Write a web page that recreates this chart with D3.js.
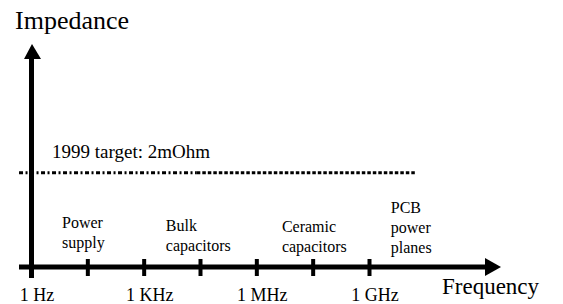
<!DOCTYPE html>
<html>
<head>
<meta charset="utf-8">
<script src="https://cdn.jsdelivr.net/npm/d3@7"></script>
</head>
<body style="margin:0">
<div id="wrapper"></div>
<script>
// frequency ticks (Hz) and their labels
const tickValues = [1, Math.pow(10, 1.5), 1e3, Math.pow(10, 4.5), 1e6, Math.pow(10, 7.5), 1e9]
const tickLabels = ["1 Hz", "", "1 KHz", "", "1 MHz", "", "1 GHz"]

// decoupling regions, label starts at this frequency
const regionNames = [["Power", "supply"], ["Bulk", "capacitors"], ["Ceramic", "capacitors"], ["PCB", "power", "planes"]]
const regionFreqs = [6.7, 3.9e3, 4.8e6, 3.8e9]

// target impedance line (Ohm) over a frequency span
const targetLabel = "1999 target: 2mOhm"
const targetOhm = 0.002
const targetSpan = [0.48, 1.8e10]

const serif = "'Times New Roman', 'Liberation Serif', Tinos, serif"

function addText(parent, x, y, size, str) {
  return parent.append("text")
    .attr("x", x)
    .attr("y", y)
    .attr("font-family", serif)
    .style("font-family", serif)
    .attr("font-size", size)
    .text(str)
}

function drawChart() {
  let dimensions = {
    width: 563,
    height: 304,
  }

  const svg = d3.select("#wrapper")
    .append("svg")
      .attr("width", dimensions.width)
      .attr("height", dimensions.height)
      .attr("font-family", serif)

  const xScale = d3.scaleLog()
    .domain([1, 1e9])
    .range([31, 369])

  const yScale = d3.scaleLog()
    .domain([1e-4, 0.12])
    .range([267, 44])

  const axisY = yScale(1e-4)
  const axisX = xScale(1)

  // target line: dash-dot on the left, denser dots on the right
  const splitF = 2.6e4
  svg.append("line")
    .attr("x1", xScale(targetSpan[0]))
    .attr("x2", xScale(splitF))
    .attr("y1", yScale(targetOhm))
    .attr("y2", yScale(targetOhm))
    .attr("stroke", "#000")
    .attr("stroke-width", 3)
    .attr("stroke-dasharray", "4 2.5 2 2.5")

  svg.append("line")
    .attr("x1", xScale(splitF))
    .attr("x2", xScale(targetSpan[1]))
    .attr("y1", yScale(targetOhm))
    .attr("y2", yScale(targetOhm))
    .attr("stroke", "#000")
    .attr("stroke-width", 3)
    .attr("stroke-dasharray", "3.5 2")

  addText(svg, 52, yScale(targetOhm) - 15, 19, targetLabel)

  // y axis with arrow
  svg.append("line")
    .attr("x1", axisX + 0.5)
    .attr("x2", axisX + 0.5)
    .attr("y1", axisY + 11)
    .attr("y2", yScale(0.12) + 13)
    .attr("stroke", "#000")
    .attr("stroke-width", 5)

  svg.append("path")
    .attr("d", `M${axisX - 7},${yScale(0.12) + 15} L${axisX + 1},${yScale(0.12)} L${axisX + 10},${yScale(0.12) + 15} Z`)
    .attr("fill", "#000")

  // x axis with arrow
  svg.append("line")
    .attr("x1", 19)
    .attr("x2", 487)
    .attr("y1", axisY)
    .attr("y2", axisY)
    .attr("stroke", "#000")
    .attr("stroke-width", 5)

  svg.append("path")
    .attr("d", `M485,${axisY - 9} L501,${axisY} L485,${axisY + 9} Z`)
    .attr("fill", "#000")

  // tick marks from the axis generator, labels as plain texts
  const xAxisGenerator = d3.axisBottom()
    .scale(xScale)
    .tickValues(tickValues)
    .tickFormat("")
    .tickSizeOuter(0)

  const xAxis = svg.append("g")
    .attr("transform", `translate(0, ${axisY})`)
    .call(xAxisGenerator)

  xAxis.select(".domain").remove()
  xAxis.selectAll(".tick text").remove()

  xAxis.selectAll(".tick line")
    .attr("y1", -8)
    .attr("y2", 9)
    .attr("stroke", "#000")
    .attr("stroke-width", 4)

  tickValues.forEach((v, i) => {
    if (!tickLabels[i]) return
    addText(svg, xScale(v) + 6, axisY + 34, 18, tickLabels[i])
      .attr("text-anchor", "middle")
  })

  // region labels, one text per line
  const baseLines = [248, 251, 252, 253]
  regionNames.forEach((lines, i) => {
    lines.forEach((line, j) => {
      addText(svg, xScale(regionFreqs[i]), baseLines[i] - (lines.length - 1 - j) * 20, 16, line)
    })
  })

  // axis titles
  addText(svg, 15, 29, 26, "Impedance")
  addText(svg, 442, 294, 23, "Frequency")
}

drawChart()
</script>
</body>
</html>
